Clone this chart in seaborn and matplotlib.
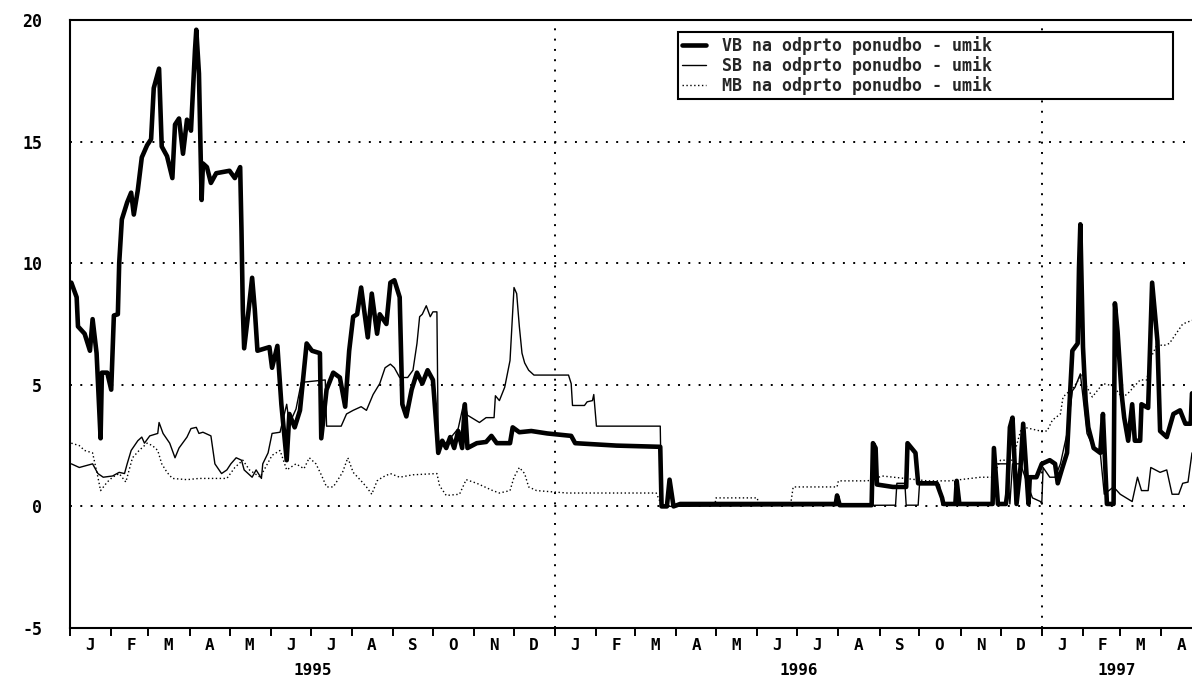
import matplotlib
matplotlib.use("Agg")
import matplotlib.pyplot as plt
import matplotlib.dates as mdates
import matplotlib.transforms as mtransforms
from matplotlib.lines import Line2D
from matplotlib.ticker import FuncFormatter, NullFormatter
import pandas as pd
import seaborn as sns

# ---- data -------------------------------------------------------------
VB_DATES = [
    "1995-01-02", "1995-01-06", "1995-01-07", "1995-01-12", "1995-01-16", "1995-01-18",
    "1995-01-21", "1995-01-23", "1995-01-24", "1995-01-25", "1995-01-29", "1995-02-01",
    "1995-02-02", "1995-02-03", "1995-02-06", "1995-02-07", "1995-02-09", "1995-02-13",
    "1995-02-16", "1995-02-18", "1995-02-21", "1995-02-24", "1995-02-28", "1995-03-03",
    "1995-03-05", "1995-03-09", "1995-03-11", "1995-03-15", "1995-03-19", "1995-03-21",
    "1995-03-24", "1995-03-27", "1995-03-30", "1995-04-02", "1995-04-05", "1995-04-06",
    "1995-04-08", "1995-04-10", "1995-04-11", "1995-04-14", "1995-04-17", "1995-04-21",
    "1995-04-26", "1995-05-01", "1995-05-05", "1995-05-09", "1995-05-10", "1995-05-11",
    "1995-05-12", "1995-05-15", "1995-05-18", "1995-05-20", "1995-05-22", "1995-05-31",
    "1995-06-02", "1995-06-06", "1995-06-09", "1995-06-13", "1995-06-15", "1995-06-19",
    "1995-06-23", "1995-06-28", "1995-07-02", "1995-07-08", "1995-07-09", "1995-07-13",
    "1995-07-18", "1995-07-23", "1995-07-27", "1995-07-30", "1995-08-02", "1995-08-05",
    "1995-08-08", "1995-08-13", "1995-08-16", "1995-08-20", "1995-08-22", "1995-08-27",
    "1995-08-30", "1995-09-02", "1995-09-06", "1995-09-08", "1995-09-11", "1995-09-15",
    "1995-09-19", "1995-09-23", "1995-09-27", "1995-10-01", "1995-10-04", "1995-10-05",
    "1995-10-08", "1995-10-11", "1995-10-14", "1995-10-17", "1995-10-20", "1995-10-23",
    "1995-10-25", "1995-10-27", "1995-11-03", "1995-11-10", "1995-11-14", "1995-11-18",
    "1995-11-28", "1995-11-30", "1995-12-05", "1995-12-14", "1995-12-26", "1996-01-13",
    "1996-01-16", "1996-02-16", "1996-03-20", "1996-03-21", "1996-03-25", "1996-03-27",
    "1996-03-30", "1996-04-04", "1996-07-30", "1996-07-31", "1996-08-02", "1996-08-26",
    "1996-08-27", "1996-08-29", "1996-08-30", "1996-09-11", "1996-09-21", "1996-09-22",
    "1996-09-28", "1996-09-30", "1996-10-14", "1996-10-18", "1996-10-19", "1996-10-28",
    "1996-10-29", "1996-10-31", "1996-11-25", "1996-11-26", "1996-11-29", "1996-12-05",
    "1996-12-06", "1996-12-08", "1996-12-10", "1996-12-13", "1996-12-16", "1996-12-18",
    "1996-12-22", "1996-12-23", "1996-12-28", "1997-01-01", "1997-01-07", "1997-01-11",
    "1997-01-13", "1997-01-16", "1997-01-20", "1997-01-22", "1997-01-24", "1997-01-28",
    "1997-01-29", "1997-01-30", "1997-02-01", "1997-02-03", "1997-02-05", "1997-02-09",
    "1997-02-14", "1997-02-16", "1997-02-19", "1997-02-24", "1997-02-25", "1997-02-27",
    "1997-03-02", "1997-03-04", "1997-03-07", "1997-03-10", "1997-03-12", "1997-03-16",
    "1997-03-17", "1997-03-22", "1997-03-25", "1997-03-29", "1997-03-31", "1997-04-05",
    "1997-04-10", "1997-04-15", "1997-04-19", "1997-04-23", "1997-04-24",
]
VB_VALUES = [
    9.2, 8.6, 7.4, 7.1, 6.4, 7.7,
    6.3, 4.0, 2.8, 5.5, 5.5, 4.8,
    6.3, 7.85, 7.9, 10.0, 11.8, 12.5,
    12.9, 12.0, 13.0, 14.35, 14.85, 15.1,
    17.2, 18.0, 14.8, 14.4, 13.5, 15.7,
    15.95, 14.5, 15.9, 15.45, 18.75, 19.6,
    17.8, 12.6, 14.1, 13.95, 13.3, 13.7,
    13.75, 13.8, 13.5, 13.95, 11.35, 8.1,
    6.5, 7.9, 9.4, 8.1, 6.4, 6.55,
    5.7, 6.6, 4.2, 1.9, 3.8, 3.25,
    3.95, 6.7, 6.4, 6.3, 2.8, 4.8,
    5.5, 5.3, 4.1, 6.4, 7.8, 7.9,
    9.0, 6.95, 8.75, 7.1, 7.9, 7.5,
    9.2, 9.3, 8.6, 4.2, 3.7, 4.8,
    5.5, 5.05, 5.6, 5.2, 3.0, 2.2,
    2.7, 2.4, 2.85, 2.4, 3.1, 2.4,
    4.2, 2.4, 2.6, 2.65, 2.9, 2.6,
    2.6, 3.25, 3.05, 3.1, 3.0, 2.9,
    2.6, 2.5, 2.45, 0.0, 0.0, 1.1,
    0.0, 0.1, 0.1, 0.45, 0.05, 0.05,
    2.6, 2.4, 0.9, 0.8, 0.8, 2.6,
    2.2, 0.95, 0.95, 0.35, 0.1, 0.1,
    1.05, 0.1, 0.1, 2.4, 0.1, 0.1,
    0.5, 3.25, 3.65, 0.1, 1.6, 3.4,
    0.1, 1.2, 1.2, 1.75, 1.9, 1.75,
    0.95, 1.5, 2.2, 4.35, 6.4, 6.7,
    9.8, 11.6, 6.55, 4.35, 3.25, 2.4,
    2.2, 3.8, 0.1, 0.1, 8.35, 7.2,
    4.65, 3.65, 2.7, 4.2, 2.7, 2.7,
    4.2, 4.05, 9.2, 6.8, 3.1, 2.85,
    3.8, 3.95, 3.4, 3.4, 4.65,
]

SB_DATES = [
    "1995-01-02", "1995-01-08", "1995-01-18", "1995-01-22", "1995-01-26", "1995-02-02",
    "1995-02-07", "1995-02-11", "1995-02-13", "1995-02-16", "1995-02-21", "1995-02-24",
    "1995-02-26", "1995-03-02", "1995-03-08", "1995-03-09", "1995-03-12", "1995-03-17",
    "1995-03-21", "1995-03-24", "1995-03-30", "1995-04-02", "1995-04-06", "1995-04-08",
    "1995-04-11", "1995-04-17", "1995-04-20", "1995-04-25", "1995-04-29", "1995-05-02",
    "1995-05-06", "1995-05-10", "1995-05-12", "1995-05-18", "1995-05-21", "1995-05-25",
    "1995-05-26", "1995-05-30", "1995-06-02", "1995-06-08", "1995-06-13", "1995-06-15",
    "1995-06-20", "1995-06-24", "1995-07-12", "1995-07-13", "1995-07-24", "1995-07-28",
    "1995-08-02", "1995-08-08", "1995-08-12", "1995-08-17", "1995-08-22", "1995-08-26",
    "1995-08-30", "1995-09-02", "1995-09-06", "1995-09-12", "1995-09-16", "1995-09-19",
    "1995-09-21", "1995-09-23", "1995-09-26", "1995-09-29", "1995-10-01", "1995-10-04",
    "1995-10-05", "1995-10-11", "1995-10-20", "1995-10-24", "1995-10-25", "1995-10-27",
    "1995-11-05", "1995-11-10", "1995-11-16", "1995-11-17", "1995-11-20", "1995-11-24",
    "1995-11-28", "1995-12-01", "1995-12-03", "1995-12-05", "1995-12-07", "1995-12-09",
    "1995-12-12", "1995-12-16", "1996-01-11", "1996-01-13", "1996-01-14", "1996-01-23",
    "1996-01-25", "1996-01-29", "1996-01-30", "1996-02-01", "1996-03-20", "1996-03-21",
    "1996-09-13", "1996-09-14", "1996-09-20", "1996-09-21", "1996-09-30", "1996-10-01",
    "1996-10-16", "1996-10-18", "1996-11-25", "1996-11-26", "1996-12-06", "1996-12-08",
    "1996-12-10", "1996-12-16", "1996-12-21", "1996-12-25", "1996-12-31", "1997-01-01",
    "1997-01-02", "1997-01-07", "1997-01-11", "1997-01-15", "1997-01-20", "1997-01-24",
    "1997-01-26", "1997-01-30", "1997-02-01", "1997-02-04", "1997-02-09", "1997-02-14",
    "1997-02-17", "1997-02-24", "1997-03-01", "1997-03-10", "1997-03-14", "1997-03-17",
    "1997-03-22", "1997-03-24", "1997-03-31", "1997-04-05", "1997-04-09", "1997-04-14",
    "1997-04-17", "1997-04-21", "1997-04-24",
]
SB_VALUES = [
    1.75, 1.6, 1.75, 1.35, 1.2, 1.25,
    1.4, 1.35, 1.75, 2.3, 2.7, 2.85,
    2.6, 2.9, 3.0, 3.45, 3.0, 2.6,
    2.0, 2.4, 2.85, 3.2, 3.25, 3.0,
    3.05, 2.9, 1.75, 1.35, 1.5, 1.75,
    2.0, 1.9, 1.5, 1.2, 1.5, 1.15,
    1.75, 2.2, 3.0, 3.05, 4.2, 3.4,
    4.0, 5.1, 5.2, 3.3, 3.3, 3.8,
    3.95, 4.1, 3.95, 4.6, 5.05, 5.7,
    5.85, 5.7, 5.3, 5.3, 5.6, 6.7,
    7.8, 7.9, 8.25, 7.8, 8.0, 8.0,
    2.6, 2.6, 3.2, 4.2, 4.2, 3.75,
    3.45, 3.65, 3.65, 4.55, 4.35, 4.9,
    6.0, 9.0, 8.75, 7.4, 6.3, 5.9,
    5.6, 5.4, 5.4, 5.05, 4.15, 4.15,
    4.3, 4.35, 4.6, 3.3, 3.3, 0.0,
    0.05, 0.95, 0.95, 0.05, 0.05, 0.9,
    0.9, 0.05, 0.05, 1.75, 1.75, 0.1,
    1.75, 1.75, 0.95, 0.35, 0.2, 0.1,
    1.6, 1.2, 1.2, 1.75, 3.0, 4.75,
    4.9, 5.45, 4.5, 3.0, 2.4, 2.2,
    0.5, 0.8, 0.5, 0.2, 1.2, 0.65,
    0.65, 1.6, 1.4, 1.5, 0.5, 0.5,
    0.95, 1.0, 2.2,
]

MB_DATES = [
    "1995-01-02", "1995-01-08", "1995-01-12", "1995-01-18", "1995-01-22", "1995-01-24",
    "1995-01-29", "1995-02-02", "1995-02-07", "1995-02-12", "1995-02-17", "1995-02-22",
    "1995-02-28", "1995-03-04", "1995-03-08", "1995-03-11", "1995-03-15", "1995-03-19",
    "1995-03-30", "1995-04-08", "1995-04-29", "1995-05-05", "1995-05-11", "1995-05-16",
    "1995-05-24", "1995-06-02", "1995-06-08", "1995-06-13", "1995-06-20", "1995-06-26",
    "1995-06-30", "1995-07-05", "1995-07-09", "1995-07-13", "1995-07-18", "1995-07-21",
    "1995-07-25", "1995-07-29", "1995-08-02", "1995-08-08", "1995-08-12", "1995-08-16",
    "1995-08-20", "1995-08-24", "1995-08-30", "1995-09-06", "1995-09-16", "1995-10-04",
    "1995-10-06", "1995-10-11", "1995-10-21", "1995-10-26", "1995-11-03", "1995-11-07",
    "1995-11-15", "1995-11-20", "1995-11-28", "1995-12-01", "1995-12-05", "1995-12-09",
    "1995-12-12", "1995-12-18", "1996-01-10", "1996-03-17", "1996-03-21", "1996-04-30",
    "1996-05-01", "1996-06-01", "1996-06-02", "1996-06-26", "1996-06-28", "1996-07-31",
    "1996-08-01", "1996-08-23", "1996-09-03", "1996-10-07", "1996-10-24", "1996-11-16",
    "1996-11-25", "1996-12-01", "1996-12-10", "1996-12-16", "1996-12-19", "1996-12-31",
    "1997-01-05", "1997-01-09", "1997-01-15", "1997-01-17", "1997-01-25", "1997-01-31",
    "1997-02-04", "1997-02-08", "1997-02-16", "1997-02-24", "1997-03-02", "1997-03-06",
    "1997-03-11", "1997-03-16", "1997-03-21", "1997-03-24", "1997-03-29", "1997-04-02",
    "1997-04-07", "1997-04-12", "1997-04-17", "1997-04-24",
]
MB_VALUES = [
    2.6, 2.5, 2.3, 2.2, 1.2, 0.65,
    1.0, 1.2, 1.35, 1.0, 2.0, 2.3,
    2.6, 2.5, 2.3, 1.75, 1.4, 1.15,
    1.1, 1.15, 1.15, 1.6, 1.9, 1.5,
    1.2, 2.1, 2.3, 1.5, 1.75, 1.55,
    2.0, 1.75, 1.3, 0.8, 0.8, 1.05,
    1.4, 2.0, 1.4, 1.05, 0.8, 0.5,
    1.05, 1.2, 1.35, 1.2, 1.3, 1.35,
    0.85, 0.45, 0.5, 1.1, 0.95, 0.85,
    0.65, 0.55, 0.65, 1.2, 1.6, 1.35,
    0.8, 0.65, 0.55, 0.55, 0.05, 0.05,
    0.35, 0.35, 0.05, 0.05, 0.8, 0.8,
    1.05, 1.05, 1.25, 1.05, 1.05, 1.2,
    1.2, 1.9, 1.9, 3.1, 3.25, 3.1,
    3.1, 3.55, 3.8, 4.5, 4.9, 5.4,
    4.9, 4.5, 5.05, 4.95, 4.5, 4.6,
    4.9, 5.2, 5.2, 6.1, 6.7, 6.6,
    6.7, 7.1, 7.5, 7.65,
]

SERIES_LABELS = [
    "VB na odprto ponudbo - umik",
    "SB na odprto ponudbo - umik",
    "MB na odprto ponudbo - umik",
]
MONTH_LETTERS = ["J", "F", "M", "A", "M", "J", "J", "A", "S", "O", "N", "D"]
Y_TICKS = [-5, 0, 5, 10, 15, 20]
GRID_Y = [0, 5, 10, 15]
YEAR_STARTS = ["1996-01-01", "1997-01-01"]
YEARS = [1995, 1996, 1997]
X_START = "1995-01-01"
X_END = "1997-04-24"

# ---- style ------------------------------------------------------------
sns.set_theme(style="white")
plt.rcParams["font.family"] = ["DejaVu Sans Mono", "DejaVu Sans"]
plt.rcParams["font.weight"] = "bold"

W, H = 1192, 677
fig = plt.figure(figsize=(W / 100, H / 100), dpi=100)
fig.patch.set_facecolor("white")
ax = fig.add_axes([70 / W, 49 / H, 1122 / W, 608 / H])
ax.set_facecolor("white")

DOT_GRID = (0, (1, 4.3))
MB_STYLE = (0, (1, 1.8))
LABEL_SIZE = 11.5


def series_frame(dates, values):
    return pd.DataFrame({"datum": pd.to_datetime(dates), "vrednost": values})


# dotted reference grid at selected levels and at year boundaries
for v in GRID_Y:
    ax.axhline(v, color="black", lw=1.4, ls=DOT_GRID, zorder=1)
for d in YEAR_STARTS:
    ax.axvline(pd.Timestamp(d), color="black", lw=1.4, ls=DOT_GRID, zorder=1)

sns.lineplot(data=series_frame(VB_DATES, VB_VALUES), x="datum", y="vrednost", ax=ax,
             color="black", linewidth=3.3, estimator=None, sort=False, zorder=3)
sns.lineplot(data=series_frame(SB_DATES, SB_VALUES), x="datum", y="vrednost", ax=ax,
             color="black", linewidth=1.0, estimator=None, sort=False, zorder=4)
sns.lineplot(data=series_frame(MB_DATES, MB_VALUES), x="datum", y="vrednost", ax=ax,
             color="black", linewidth=1.0, linestyle=MB_STYLE, estimator=None,
             sort=False, zorder=5)

x0, x1 = pd.Timestamp(X_START), pd.Timestamp(X_END)
ax.set_xlim(x0, x1)
ax.set_ylim(Y_TICKS[0], Y_TICKS[-1])
ax.set_xlabel("")
ax.set_ylabel("")

# y axis
ax.set_yticks(Y_TICKS)
ax.set_yticklabels([str(v) for v in Y_TICKS])
ax.tick_params(axis="y", direction="out", length=11, width=1.4, color="black",
               labelsize=12, pad=9, labelcolor="black")

# x axis: month ticks, month initials centred in each month
ax.xaxis.set_major_locator(mdates.MonthLocator())
ax.xaxis.set_major_formatter(NullFormatter())
ax.xaxis.set_minor_locator(mdates.MonthLocator(bymonthday=16))
ax.xaxis.set_minor_formatter(
    FuncFormatter(lambda x, pos: MONTH_LETTERS[mdates.num2date(x).month - 1]))
ax.tick_params(axis="x", which="major", direction="out", length=6, width=1.4,
               color="black", bottom=True)
ax.tick_params(axis="x", which="minor", length=0, pad=7, labelsize=LABEL_SIZE,
               labelcolor="black", bottom=True)

# year captions under the month row, centred on the visible part of each year
trans = mtransforms.blended_transform_factory(ax.transData, ax.transAxes)
for yr in YEARS:
    a = max(pd.Timestamp(f"{yr}-01-01"), x0)
    b = min(pd.Timestamp(f"{yr + 1}-01-01"), x1)
    mid = a + (b - a) / 2
    ax.text(mdates.date2num(mid), -0.0705, str(yr), transform=trans, ha="center",
            va="center", fontsize=LABEL_SIZE, fontweight="bold", color="black")

for side in ("left", "bottom", "top"):
    ax.spines[side].set_visible(True)
    ax.spines[side].set_color("black")
    ax.spines[side].set_linewidth(1.5)
ax.spines["right"].set_visible(False)

handles = [
    Line2D([], [], color="black", lw=3.3),
    Line2D([], [], color="black", lw=1.0),
    Line2D([], [], color="black", lw=1.0, ls=MB_STYLE),
]
leg = ax.legend(handles, SERIES_LABELS, loc="upper left",
                bbox_to_anchor=(0.5419, 0.8734, 0.4412, 0.1069), mode="expand",
                frameon=True, fancybox=False, shadow=False, framealpha=1,
                edgecolor="black", fontsize=12, handlelength=1.4,
                handletextpad=1.0, labelspacing=0.05, borderpad=0.25,
                borderaxespad=0)
leg.get_frame().set_linewidth(1.5)

fig.savefig("out.png", dpi=100, facecolor="white")
